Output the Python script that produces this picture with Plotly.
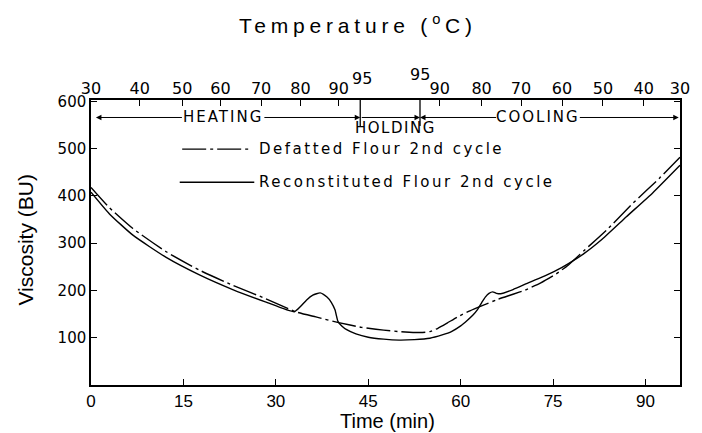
import plotly.graph_objects as go

# ---------------- data ----------------
time_defatted = [0, 3.0, 6.8, 12.2, 17.6, 23.0, 28.3, 33.2, 36.5, 40.2, 43.9, 47.5,
                 51.0, 53.5, 55.0, 56.3, 57.8, 59.5, 61.5, 63.5, 66.0, 68.5, 70.5,
                 73.0, 75.5, 77.5, 80.0, 83.7, 88.0, 92.3, 95.6]
visc_defatted = [418, 375, 331, 282, 243, 211, 183, 155, 144, 132, 122, 116,
                 112, 111, 113, 120, 131, 144, 157, 168, 181, 192, 201,
                 216, 235, 254, 284, 328, 385, 438, 482]

time_recon = [0, 3.0, 6.8, 12.2, 17.6, 23.0, 28.3, 33.0, 34.0, 35.0, 36.0, 37.2,
              38.3, 39.0, 39.6, 40.1, 40.7, 41.5, 43.0, 45.0, 47.5, 50.0, 52.5,
              55.0, 57.0, 58.5, 60.0, 61.1, 62.0, 62.7, 63.4, 64.0, 64.6, 65.2,
              65.8, 66.5, 68.5, 70.8, 73.0, 75.6, 77.5, 80.0, 83.0, 86.9, 91.2, 95.6]
visc_recon = [408, 362, 317, 270, 233, 202, 176, 155, 166, 180, 190, 195,
              186, 175, 159, 134, 125, 117, 108, 101, 97, 95, 96,
              99, 106, 113, 125, 137, 148, 159, 174, 186, 194, 197,
              194, 193, 202, 215, 227, 243, 257, 278, 309, 356, 407, 465]

time_ticks = [0, 15, 30, 45, 60, 75, 90]
visc_ticks = [100, 200, 300, 400, 500, 600]

temp_tick_time = [0, 7.9, 14.8, 21.0, 27.6, 34.0, 40.2,
                  56.6, 63.4, 69.8, 76.45, 83.1, 89.7, 95.6]
temp_tick_text = ["30", "40", "50", "60", "70", "80", "90",
                  "90", "80", "70", "60", "50", "40", "30"]
hold_start, hold_end = 43.7, 53.4
x_max, y_max = 95.6, 603

series_names = ["Defatted Flour 2nd cycle", "Reconstituted Flour 2nd cycle"]
phase_labels = ["HEATING", "HOLDING", "COOLING"]
title_text = "Temperature (<sup>o</sup>C)"

DASH = "24px,4px,3px,4px"
WIDE = "DejaVu Sans"
ARIAL = "Liberation Sans"


def spaced(s, px):
    return '<span style="letter-spacing:%spx">%s</span>' % (px, s)


fig = go.Figure()
fig.add_trace(go.Scatter(x=time_defatted, y=visc_defatted, mode="lines",
                         name=series_names[0], showlegend=False,
                         line=dict(color="black", width=1.4, dash=DASH,
                                   shape="spline", smoothing=0.5)))
fig.add_trace(go.Scatter(x=time_recon, y=visc_recon, mode="lines",
                         name=series_names[1], showlegend=False,
                         line=dict(color="black", width=1.4,
                                   shape="spline", smoothing=0.5)))
# invisible carrier so the top (temperature) axis is drawn
fig.add_trace(go.Scatter(x=[0, x_max], y=[0, 0], xaxis="x2", yaxis="y", mode="lines",
                         line=dict(width=0, color="rgba(0,0,0,0)"), hoverinfo="skip",
                         showlegend=False))

shapes = []
annotations = []

# holding boundaries
for xv in (hold_start, hold_end):
    shapes.append(dict(type="line", xref="x", yref="y", x0=xv, x1=xv, y0=y_max, y1=548,
                       line=dict(color="black", width=1.3)))

# phase arrows
arrow_y = 566


def arrow(head, tail):
    return dict(x=head, y=arrow_y, ax=tail, ay=arrow_y, xref="x", yref="y",
                axref="x", ayref="y", showarrow=True, arrowhead=2, arrowsize=1.1,
                arrowwidth=1, arrowcolor="black", text="")


annotations += [arrow(0.8, 15.0), arrow(hold_start, 27.9), arrow(hold_end, hold_start),
                arrow(hold_end, 66.0), arrow(x_max - 0.2, 79.1)]
phase_font = dict(family=WIDE, size=15, color="black")
annotations.append(dict(x=21.5, y=arrow_y, xref="x", yref="y", text=spaced(phase_labels[0], 2),
                        showarrow=False, xanchor="center", yanchor="middle", font=phase_font))
annotations.append(dict(x=49.4, y=543, xref="x", yref="y", text=spaced(phase_labels[1], 1.5),
                        showarrow=False, xanchor="center", yanchor="middle", font=phase_font))
annotations.append(dict(x=72.6, y=arrow_y, xref="x", yref="y", text=spaced(phase_labels[2], 2),
                        showarrow=False, xanchor="center", yanchor="middle", font=phase_font))

# raised 95 labels on top axis
annotations.append(dict(x=hold_start + 0.3, y=1.077, xref="x", yref="paper", text="95",
                        xanchor="center", yanchor="middle", showarrow=False,
                        font=dict(family=WIDE, size=16, color="black")))
annotations.append(dict(x=hold_end, y=1.088, xref="x", yref="paper", text="95",
                        xanchor="center", yanchor="middle", showarrow=False,
                        font=dict(family=WIDE, size=16, color="black")))

# legend (samples + text)
shapes.append(dict(type="line", xref="x", yref="y", x0=14.8, x1=26.1, y0=499, y1=499,
                   line=dict(color="black", width=1.3, dash=DASH)))
shapes.append(dict(type="line", xref="x", yref="y", x0=14.4, x1=26.5, y0=429, y1=429,
                   line=dict(color="black", width=1.3)))
leg_font = dict(family=WIDE, size=15, color="black")
annotations.append(dict(x=26.9, y=499, xref="x", yref="y", text=spaced(series_names[0], 2.5),
                        xanchor="left", yanchor="middle", showarrow=False, font=leg_font))
annotations.append(dict(x=26.9, y=429, xref="x", yref="y", text=spaced(series_names[1], 2.5),
                        xanchor="left", yanchor="middle", showarrow=False, font=leg_font))

# axis titles
annotations.append(dict(x=-0.111, y=0.509, xref="paper", yref="paper", text="Viscosity (BU)",
                        textangle=-90, xanchor="center", yanchor="middle", showarrow=False,
                        font=dict(family=ARIAL, size=21, color="black")))
annotations.append(dict(x=0.504, y=-0.128, xref="paper", yref="paper", text="Time (min)",
                        xanchor="center", yanchor="middle", showarrow=False,
                        font=dict(family=ARIAL, size=20, color="black")))
# chart title as a paper annotation above the top axis
annotations.append(dict(x=0.453, y=1.268, xref="paper", yref="paper", text=spaced(title_text, 4.8),
                        xanchor="center", yanchor="middle", showarrow=False,
                        font=dict(family=ARIAL, size=21, color="black")))

# page body has an 8px margin: size the figure so the plot lands where the reference has it
fig.update_layout(
    width=694, height=425,
    margin=dict(l=83, r=18, t=92, b=48),
    plot_bgcolor="white", paper_bgcolor="white",
    xaxis=dict(range=[0, x_max], tickvals=time_ticks, ticks="inside", ticklen=6,
               tickcolor="black", tickwidth=1.2, showline=True, linecolor="black",
               linewidth=1.5, mirror=True, showgrid=False, zeroline=False,
               tickfont=dict(family=ARIAL, size=17, color="black")),
    xaxis2=dict(range=[0, x_max], overlaying="x", side="top", anchor="y",
                tickvals=temp_tick_time, ticktext=temp_tick_text, ticks="inside",
                ticklen=6, tickcolor="black", tickwidth=1.2, showline=False,
                showgrid=False, zeroline=False, ticklabelstandoff=2,
                tickfont=dict(family=WIDE, size=16, color="black")),
    yaxis=dict(range=[0, y_max], tickvals=visc_ticks, ticks="inside", ticklen=6,
               tickcolor="black", tickwidth=1.2, showline=True, linecolor="black",
               linewidth=1.5, mirror="ticks", showgrid=False, zeroline=False,
               tickfont=dict(family=WIDE, size=15, color="black")),
    shapes=shapes, annotations=annotations,
)

fig.write_html("out.html")
